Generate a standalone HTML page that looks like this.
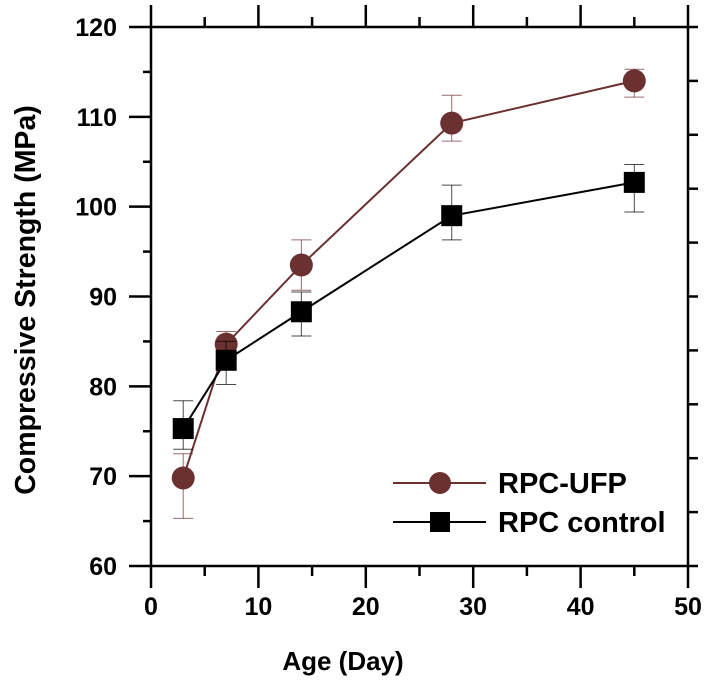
<!DOCTYPE html>
<html><head><meta charset="utf-8"><style>
body{margin:0;background:#fff}
svg{display:block;font-family:"Liberation Sans",Arial,sans-serif}
</style></head><body>
<svg id="chart" width="716" height="683" viewBox="0 0 716 683">
<g id="axes"></g>
<g id="marks"></g>
<text x="343" y="670" text-anchor="middle" font-size="26" font-weight="bold">Age (Day)</text>
<text transform="translate(35,300) rotate(-90)" text-anchor="middle" font-size="28.5" font-weight="bold">Compressive Strength (MPa)</text>
<g>
<g>
<line x1="393" y1="483" x2="486" y2="483" stroke="#6b3030" stroke-width="2"/>
<circle cx="440" cy="483" r="11" fill="#6b3030"/>
<text x="498" y="493" font-size="29" font-weight="bold">RPC-UFP</text></g>
<g>
<line x1="393" y1="522" x2="486" y2="522" stroke="#000" stroke-width="2"/>
<rect x="430" y="512" width="20" height="20" fill="#000"/>
<text x="498" y="532" font-size="29" font-weight="bold">RPC control</text></g>
</g>
</svg>
<script>
const ages=[3,7,14,28,45];
const ufpValues=[69.8,84.7,93.5,109.3,114.0];
const ufpLow=[65.3,83.3,90.7,107.3,112.2];
const ufpHigh=[72.5,86.1,96.3,112.4,115.3];
const ctrlValues=[75.3,82.9,88.3,99.0,102.7];
const ctrlLow=[73.0,80.2,85.6,96.3,99.4];
const ctrlHigh=[78.4,85.0,90.5,102.4,104.7];
const xTicks=[0,10,20,30,40,50];
const yTicks=[60,70,80,90,100,110,120];

const L=151,R=688,T=27,B=566;
const xs=v=>L+(v-0)/50*(R-L);
const ys=v=>B-(v-60)/60*(B-T);
const NS="http://www.w3.org/2000/svg";
function mk(tag,attrs,parent){const e=document.createElementNS(NS,tag);for(const k in attrs)e.setAttribute(k,attrs[k]);parent.appendChild(e);return e;}
const ax=document.getElementById('axes'),mg=document.getElementById('marks');
const frame=mk('rect',{x:L,y:T,width:R-L,height:B-T,fill:'none',stroke:'#000','stroke-width':2.5},ax);


for(let v=0;v<=50;v+=5){const x=xs(v),len=v%10===0?22:10;
 mk('line',{x1:x,y1:B,x2:x,y2:B+len,stroke:'#000','stroke-width':2.5},ax);
 mk('line',{x1:x,y1:T,x2:x,y2:T-len,stroke:'#000','stroke-width':2.5},ax);}
xTicks.forEach(v=>{const t=mk('text',{x:xs(v),y:B+49,'text-anchor':'middle','font-size':25,'font-weight':'bold'},ax);t.textContent=v;
 
 });
for(let v=60;v<=120;v+=5){const y=ys(v),len=v%10===0?22:8;
 mk('line',{x1:L,y1:y,x2:L-len,y2:y,stroke:'#000','stroke-width':2.5},ax);}
yTicks.forEach(v=>{const t=mk('text',{x:L-34,y:ys(v)+9,'text-anchor':'end','font-size':25,'font-weight':'bold'},ax);t.textContent=v;
 
 });
for(let i=0;i<=10;i++){const y=T+i*(B-T)/10;mk('line',{x1:R,y1:y,x2:R+10,y2:y,stroke:'#000','stroke-width':2.5},ax);}

function series(vals,lo,hi,color,shape,name){
 const g=mk('g',{},mg);
 
 
 ages.forEach((a,i)=>{const x=xs(a);
  mk('line',{x1:x,y1:ys(lo[i]),x2:x,y2:ys(hi[i]),stroke:color,'stroke-width':1,opacity:0.7},g);
  mk('line',{x1:x-10,y1:ys(lo[i]),x2:x+10,y2:ys(lo[i]),stroke:color,'stroke-width':1,opacity:0.7},g);
  mk('line',{x1:x-10,y1:ys(hi[i]),x2:x+10,y2:ys(hi[i]),stroke:color,'stroke-width':1,opacity:0.7},g);});
 mk('polyline',{points:ages.map((a,i)=>xs(a)+','+ys(vals[i])).join(' '),fill:'none',stroke:color,'stroke-width':2},g);
 ages.forEach((a,i)=>{let m;
  if(shape==='circle')m=mk('circle',{cx:xs(a),cy:ys(vals[i]),r:11.5,fill:color},g);
  else m=mk('rect',{x:xs(a)-10.5,y:ys(vals[i])-10.5,width:21,height:21,fill:color},g);
  
  });
}
series(ufpValues,ufpLow,ufpHigh,'#6b3030','circle','series-rpc-ufp');
series(ctrlValues,ctrlLow,ctrlHigh,'#000','square','series-rpc-control');
</script>
</body></html>
